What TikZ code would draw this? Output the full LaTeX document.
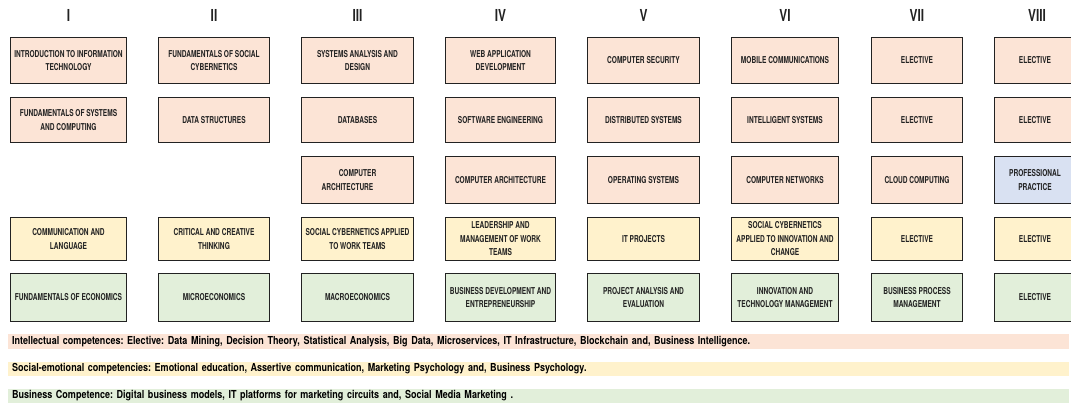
\documentclass[tikz,border=0pt]{standalone}
\usepackage{fontspec}
\newfontfamily\boxfont[FakeStretch=0.69]{TeX Gyre Heros}
\newfontfamily\hdrfont[FakeStretch=0.72]{TeX Gyre Heros}
\newfontfamily\notefont[FakeStretch=0.82]{TeX Gyre Heros}
\definecolor{pinkfill}{HTML}{FCE4D6}
\definecolor{yellowfill}{HTML}{FFF2CC}
\definecolor{greenfill}{HTML}{E2EFDA}
\definecolor{bluefill}{HTML}{D9E1F2}
\definecolor{inkc}{HTML}{222222}
\begin{document}
\frenchspacing
\begin{tikzpicture}[x=1pt,y=-1pt,
  cell/.style={draw=inkc, line width=1.7pt, align=center, inner sep=1pt, text=inkc,
    font=\boxfont\bfseries\fontsize{9.5}{13.5}\selectfont},
  pk/.style={cell, fill=pinkfill},
  yl/.style={cell, fill=yellowfill},
  gr/.style={cell, fill=greenfill},
  bl/.style={cell, fill=bluefill},
  w1/.style={minimum width=116pt}, w2/.style={minimum width=111pt},
  w3/.style={minimum width=112pt}, w4/.style={minimum width=110pt},
  w5/.style={minimum width=112pt}, w6/.style={minimum width=107pt},
  w7/.style={minimum width=91pt}, w8/.style={minimum width=81pt},
  h1/.style={minimum height=46pt}, h2/.style={minimum height=45pt},
  h3/.style={minimum height=47pt}, h4/.style={minimum height=43pt},
  h5/.style={minimum height=48pt},
  hdr/.style={text=inkc, inner sep=0pt, font=\hdrfont\bfseries\fontsize{16.5}{16.5}\selectfont},
  stripe/.style={anchor=west, minimum height=14.5pt, inner xsep=4pt, inner ysep=0pt,
    text width=1053pt, align=left, text=black,
    font=\notefont\bfseries\fontsize{11}{12}\selectfont}]
\useasboundingbox (0,0) rectangle (1071,407);
% headers
\node[hdr] (hI)    at (68.5,15) {I};
\node[hdr] (hII)   at (214,15) {II};
\node[hdr] (hIII)  at (357.5,15) {III};
\node[hdr] (hIV)   at (500.5,15) {IV};
\node[hdr] (hV)    at (643.5,15) {V};
\node[hdr] (hVI)   at (785,15) {VI};
\node[hdr] (hVII)  at (917,15) {VII};
\node[hdr] (hVIII) at (1037,15) {VIII};
% row 1
\node[pk,w1,h1] (a1) at (68.5,60.5) {INTRODUCTION TO INFORMATION\\TECHNOLOGY};
\node[pk,w2,h1] (a2) at (214,60.5) {FUNDAMENTALS OF SOCIAL\\CYBERNETICS};
\node[pk,w3,h1] (a3) at (357.5,60.5) {SYSTEMS ANALYSIS AND\\DESIGN};
\node[pk,w4,h1] (a4) at (500.5,60.5) {WEB APPLICATION\\DEVELOPMENT};
\node[pk,w5,h1] (a5) at (643.5,60.5) {COMPUTER SECURITY};
\node[pk,w6,h1] (a6) at (785,60.5) {MOBILE COMMUNICATIONS};
\node[pk,w7,h1] (a7) at (917,60.5) {ELECTIVE};
\node[pk,w8,h1] (a8) at (1035,60.5) {ELECTIVE};
% row 2
\node[pk,w1,h2] (b1) at (68.5,120) {FUNDAMENTALS OF SYSTEMS\\AND COMPUTING};
\node[pk,w2,h2] (b2) at (214,120) {DATA STRUCTURES};
\node[pk,w3,h2] (b3) at (357.5,120) {DATABASES};
\node[pk,w4,h2] (b4) at (500.5,120) {SOFTWARE ENGINEERING};
\node[pk,w5,h2] (b5) at (643.5,120) {DISTRIBUTED SYSTEMS};
\node[pk,w6,h2] (b6) at (785,120) {INTELLIGENT SYSTEMS};
\node[pk,w7,h2] (b7) at (917,120) {ELECTIVE};
\node[pk,w8,h2] (b8) at (1035,120) {ELECTIVE};
% row 3
\node[pk,w3,h3] (c3) at (357.5,180) {COMPUTER\\ARCHITECTURE\hspace*{20pt}};
\node[pk,w4,h3] (c4) at (500.5,180) {COMPUTER ARCHITECTURE};
\node[pk,w5,h3] (c5) at (643.5,180) {OPERATING SYSTEMS};
\node[pk,w6,h3] (c6) at (785,180) {COMPUTER NETWORKS};
\node[pk,w7,h3] (c7) at (917,180) {CLOUD COMPUTING};
\node[bl,w8,h3] (c8) at (1035,180) {PROFESSIONAL\\PRACTICE};
% row 4
\node[yl,w1,h4] (d1) at (68.5,239) {COMMUNICATION AND\\LANGUAGE};
\node[yl,w2,h4] (d2) at (214,239) {CRITICAL AND CREATIVE\\THINKING};
\node[yl,w3,h4] (d3) at (357.5,239) {SOCIAL CYBERNETICS APPLIED\\TO WORK TEAMS};
\node[yl,w4,h4] (d4) at (500.5,239) {LEADERSHIP AND\\MANAGEMENT OF WORK\\TEAMS};
\node[yl,w5,h4] (d5) at (643.5,239) {IT PROJECTS};
\node[yl,w6,h4] (d6) at (785,239) {SOCIAL CYBERNETICS\\APPLIED TO INNOVATION AND\\CHANGE};
\node[yl,w7,h4] (d7) at (917,239) {ELECTIVE};
\node[yl,w8,h4] (d8) at (1035,239) {ELECTIVE};
% row 5
\node[gr,w1,h5] (e1) at (68.5,297.5) {FUNDAMENTALS OF ECONOMICS};
\node[gr,w2,h5] (e2) at (214,297.5) {MICROECONOMICS};
\node[gr,w3,h5] (e3) at (357.5,297.5) {MACROECONOMICS};
\node[gr,w4,h5] (e4) at (500.5,297.5) {BUSINESS DEVELOPMENT AND\\ENTREPRENEURSHIP};
\node[gr,w5,h5] (e5) at (643.5,297.5) {PROJECT ANALYSIS AND\\EVALUATION};
\node[gr,w6,h5] (e6) at (785,297.5) {INNOVATION AND\\TECHNOLOGY MANAGEMENT};
\node[gr,w7,h5] (e7) at (917,297.5) {BUSINESS PROCESS\\MANAGEMENT};
\node[gr,w8,h5] (e8) at (1035,297.5) {ELECTIVE};
% stripes
\node[stripe, fill=pinkfill] (s1) at (8,341.5) {Intellectual competences: Elective: Data Mining, Decision Theory, Statistical Analysis, Big Data, Microservices, IT Infrastructure, Blockchain and, Business Intelligence.};
\node[stripe, fill=yellowfill] (s2) at (8,369) {Social-emotional competencies: Emotional education, Assertive communication, Marketing Psychology and, Business Psychology.};
\node[stripe, fill=greenfill] (s3) at (8,396) {Business Competence: Digital business models, IT platforms for marketing circuits and, Social Media Marketing .};
\end{tikzpicture}
\end{document}
